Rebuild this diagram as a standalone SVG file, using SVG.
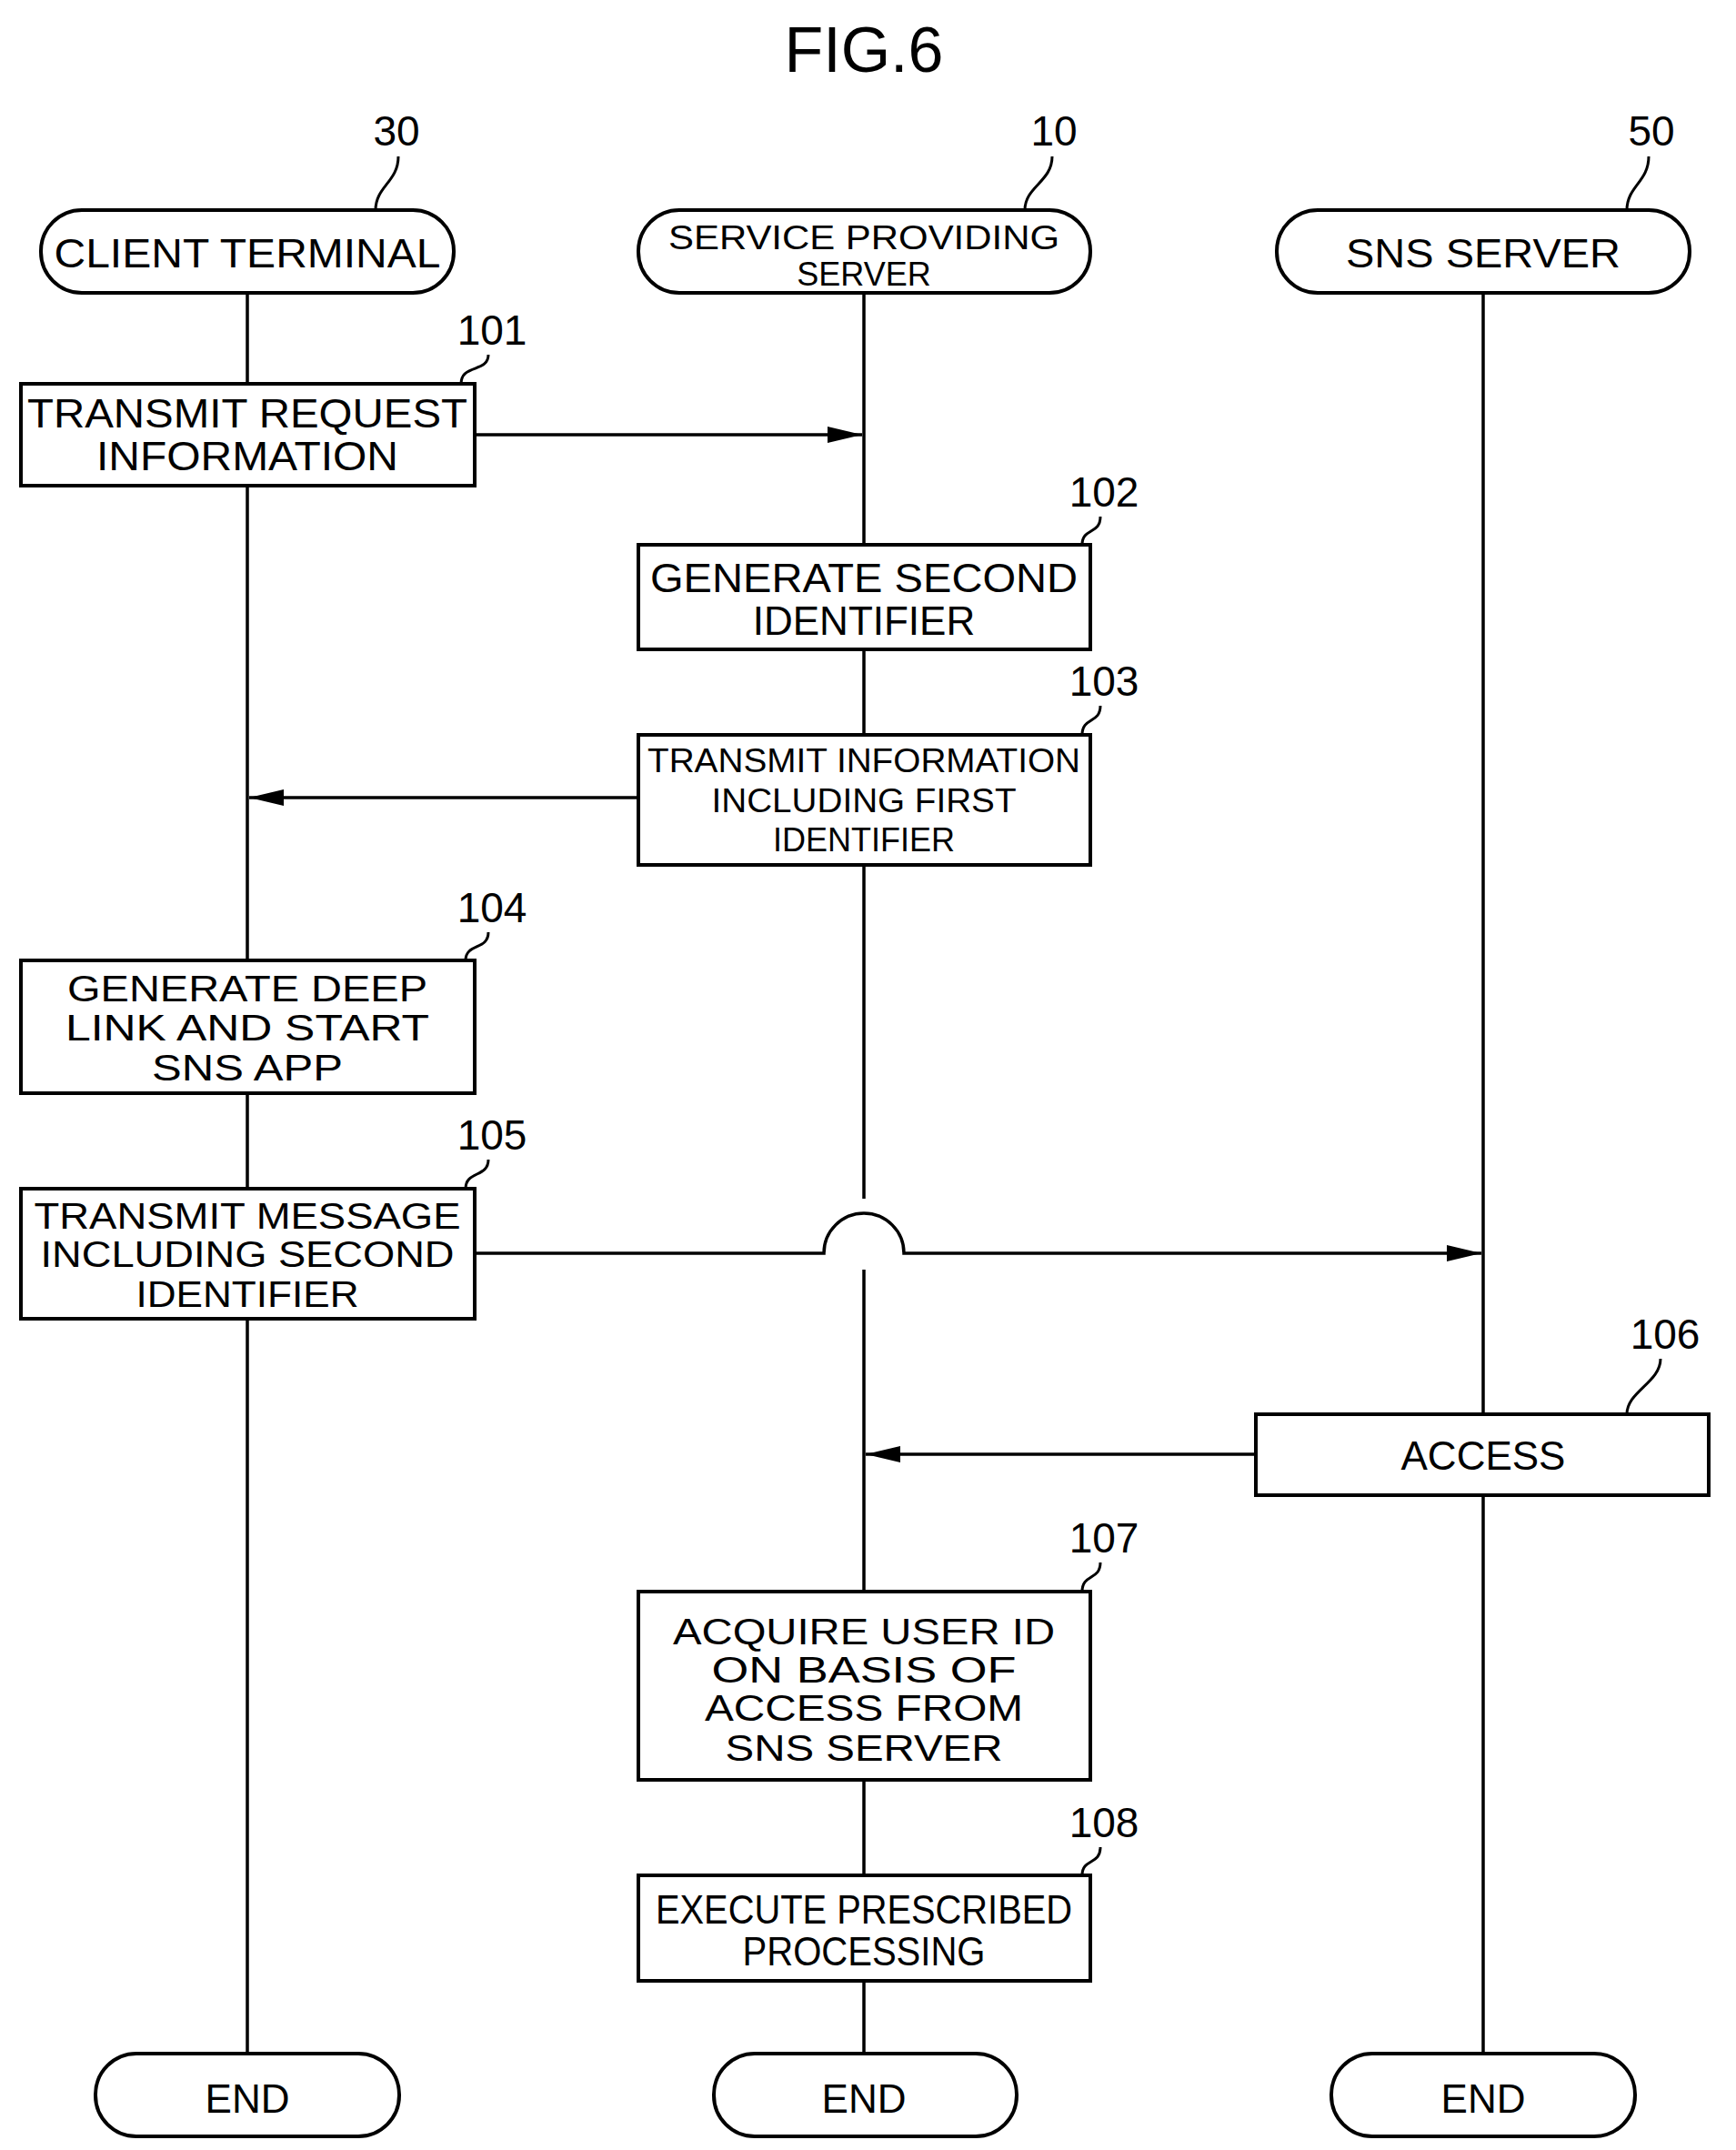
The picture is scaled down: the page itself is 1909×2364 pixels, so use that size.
<svg xmlns="http://www.w3.org/2000/svg" width="1909" height="2364" viewBox="0 0 1909 2364">
<style>
text{font-family:"Liberation Sans",Arial,sans-serif;fill:#000;text-anchor:middle;dominant-baseline:central}
.t{font-size:44px}
.m{font-size:40px}
.n{font-size:46px}
.s{font-size:36px}
.b{fill:#fff;stroke:#000;stroke-width:4}
.l{fill:none;stroke:#000;stroke-width:3.5}
.k{fill:none;stroke:#000;stroke-width:3}
</style>
<defs><marker id="a" viewBox="0 0 10 10" refX="10" refY="5" markerWidth="38" markerHeight="18" markerUnits="userSpaceOnUse" orient="auto" preserveAspectRatio="none"><path d="M0,0L10,5L0,10z"/></marker></defs>
<rect width="1909" height="2364" fill="#fff"/>
<text x="950" y="55" style="font-size:70px">FIG.6</text>
<g id="connectors">
<path class="l" d="M272,322V2258M950,322V1318M950,1396V2258M1631,322V2258"/>
<path class="l" d="M522,478H948" marker-end="url(#a)"/>
<path class="l" d="M702,877H274" marker-end="url(#a)"/>
<path class="l" d="M522,1378H906A44,44 0 0 1 994,1378H1629" marker-end="url(#a)"/>
<path class="l" d="M1381,1599H952" marker-end="url(#a)"/>
<path class="k" d="M438,172C438,200 413,205 413,231M1157,172C1157,200 1127,205 1127,231M1813,172C1813,200 1789,205 1789,231M537,390C537,410 507,400 507,422M1210,568C1210,588 1190,580 1190,599M1210,776C1210,796 1190,788 1190,808M537,1025C537,1045 512,1037 512,1056M537,1275C537,1295 512,1287 512,1307M1826,1494C1826,1520 1789,1530 1789,1555M1210,1718C1210,1738 1190,1730 1190,1750M1210,2031C1210,2051 1190,2043 1190,2062"/>
</g>
<g id="n30"><text class="n" x="436" y="144">30</text></g>
<g id="n10"><text class="n" x="1159" y="144">10</text></g>
<g id="n50"><text class="n" x="1816" y="144">50</text></g>
<g id="client"><rect class="b" x="45" y="231" width="454" height="91" rx="45"/><text class="t" x="272" y="278" textLength="425" lengthAdjust="spacingAndGlyphs">CLIENT TERMINAL</text></g>
<g id="service"><rect class="b" x="702" y="231" width="497" height="91" rx="45"/><text class="s" x="950" y="261" textLength="430" lengthAdjust="spacingAndGlyphs">SERVICE PROVIDING</text><text class="s" x="950" y="301">SERVER</text></g>
<g id="sns"><rect class="b" x="1404" y="231" width="454" height="91" rx="45"/><text class="t" x="1631" y="278" textLength="302" lengthAdjust="spacingAndGlyphs">SNS SERVER</text></g>
<g id="s101"><text class="n" x="541" y="363">101</text><rect class="b" x="23" y="422" width="499" height="112"/><text class="t" x="272" y="454" textLength="484" lengthAdjust="spacingAndGlyphs">TRANSMIT REQUEST</text><text class="t" x="272" y="501" textLength="332" lengthAdjust="spacingAndGlyphs">INFORMATION</text></g>
<g id="s102"><text class="n" x="1214" y="541">102</text><rect class="b" x="702" y="599" width="497" height="115"/><text class="t" x="950" y="635" textLength="470" lengthAdjust="spacingAndGlyphs">GENERATE SECOND</text><text class="t" x="950" y="682">IDENTIFIER</text></g>
<g id="s103"><text class="n" x="1214" y="749">103</text><rect class="b" x="702" y="808" width="497" height="143"/><text class="s" x="950" y="836" textLength="476" lengthAdjust="spacingAndGlyphs">TRANSMIT INFORMATION</text><text class="s" x="950" y="880" textLength="335" lengthAdjust="spacingAndGlyphs">INCLUDING FIRST</text><text class="s" x="950" y="923">IDENTIFIER</text></g>
<g id="s104"><text class="n" x="541" y="998">104</text><rect class="b" x="23" y="1056" width="499" height="146"/><text class="m" x="272" y="1087" textLength="396" lengthAdjust="spacingAndGlyphs">GENERATE DEEP</text><text class="m" x="272" y="1130" textLength="400" lengthAdjust="spacingAndGlyphs">LINK AND START</text><text class="m" x="272" y="1174" textLength="210" lengthAdjust="spacingAndGlyphs">SNS APP</text></g>
<g id="s105"><text class="n" x="541" y="1248">105</text><rect class="b" x="23" y="1307" width="499" height="143"/><text class="m" x="272" y="1337" textLength="469" lengthAdjust="spacingAndGlyphs">TRANSMIT MESSAGE</text><text class="m" x="272" y="1379" textLength="455" lengthAdjust="spacingAndGlyphs">INCLUDING SECOND</text><text class="m" x="272" y="1423" textLength="245" lengthAdjust="spacingAndGlyphs">IDENTIFIER</text></g>
<g id="s106"><text class="n" x="1831" y="1467">106</text><rect class="b" x="1381" y="1555" width="498" height="89"/><text class="t" x="1631" y="1600">ACCESS</text></g>
<g id="s107"><text class="n" x="1214" y="1691">107</text><rect class="b" x="702" y="1750" width="497" height="207"/><text class="m" x="950" y="1794" textLength="420" lengthAdjust="spacingAndGlyphs">ACQUIRE USER ID</text><text class="m" x="950" y="1836" textLength="335" lengthAdjust="spacingAndGlyphs">ON BASIS OF</text><text class="m" x="950" y="1878" textLength="350" lengthAdjust="spacingAndGlyphs">ACCESS FROM</text><text class="m" x="950" y="1922" textLength="305" lengthAdjust="spacingAndGlyphs">SNS SERVER</text></g>
<g id="s108"><text class="n" x="1214" y="2004">108</text><rect class="b" x="702" y="2062" width="497" height="116"/><text class="t" x="950" y="2099" textLength="458" lengthAdjust="spacingAndGlyphs">EXECUTE PRESCRIBED</text><text class="t" x="950" y="2145" textLength="267" lengthAdjust="spacingAndGlyphs">PROCESSING</text></g>
<g id="end1"><rect class="b" x="105" y="2258" width="334" height="91" rx="45"/><text class="t" x="272" y="2307">END</text></g>
<g id="end2"><rect class="b" x="785" y="2258" width="333" height="91" rx="45"/><text class="t" x="950" y="2307">END</text></g>
<g id="end3"><rect class="b" x="1464" y="2258" width="334" height="91" rx="45"/><text class="t" x="1631" y="2307">END</text></g>
</svg>
